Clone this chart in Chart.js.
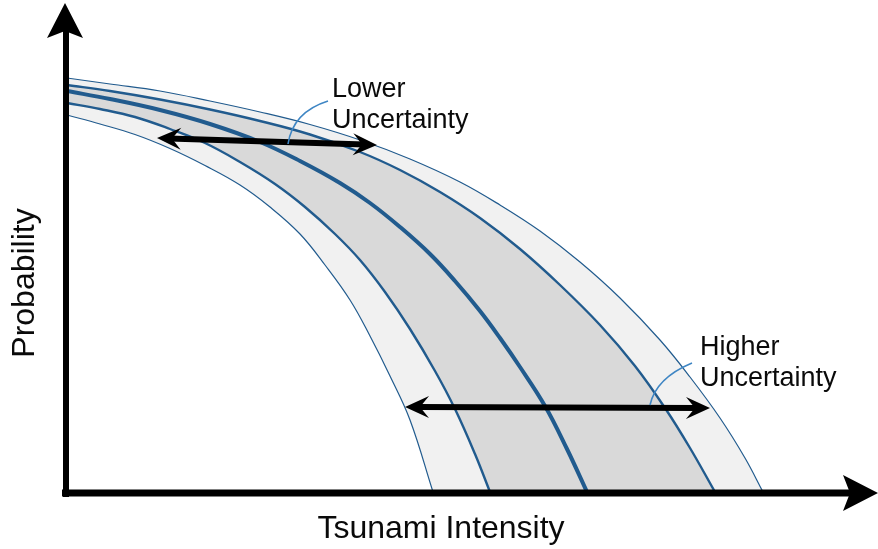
<!DOCTYPE html>
<html>
<head>
<meta charset="utf-8">
<script src="https://cdn.jsdelivr.net/npm/chart.js@4.4.1/dist/chart.umd.min.js"></script>
<style>
  html, body { margin: 0; padding: 0; background: #ffffff; }
  #wrap { width: 878px; height: 549px; position: relative; }
</style>
</head>
<body>
<div id="wrap"><canvas id="chart"></canvas></div>
<script>
// Exceedance curves: x = tsunami intensity, y = probability (relative units)
const outerUpperX = [2, 45, 95, 145, 195, 245, 295, 345, 395, 435, 475, 515, 555, 595, 625, 655, 680, 698];
const outerUpperY = [414, 408, 401, 391, 380, 367.5, 352, 333, 310, 287, 261, 230, 194, 152, 115, 74, 34, 0];

const innerUpperX = [2, 45, 95, 145, 195, 245, 295, 335, 375, 415, 455, 495, 535, 570, 600, 625, 650];
const innerUpperY = [407, 401, 392.5, 382.5, 371, 357.5, 340, 322, 300, 274, 243, 207, 167, 126, 84, 44, 0];

const centralX = [2, 45, 95, 145, 195, 235, 275, 305, 335, 365, 390, 415, 435, 455, 480, 502, 522];
const centralY = [401, 393, 382, 368, 350, 331, 309, 289, 265, 238, 211, 181, 154, 125, 86, 43, 0];

const innerLowerX = [2, 35, 70, 105, 140, 175, 210, 240, 270, 295, 320, 345, 370, 390, 410, 425];
const innerLowerY = [389, 383, 375, 363, 349, 330, 308, 285, 258, 232, 200, 163, 121, 83, 38, 0];

const outerLowerX = [2, 35, 70, 105, 140, 175, 205, 235, 260, 285, 305, 325, 345, 368];
const outerLowerY = [377, 368, 357.5, 343.5, 326.5, 307, 285, 258, 227, 192, 156, 116, 72, 0];

// Spread arrows (start / end in the same units)
const lowerSpread = [[92, 354], [312, 347]];
const higherSpread = [[340, 85], [645, 84]];

// Callout texts and the leader curves that point to the spread arrows
const lowerLabel = ['Lower', 'Uncertainty'];
const higherLabel = ['Higher', 'Uncertainty'];
const lowerLabelAt = [267, 395];
const higherLabelAt = [635, 137];
const lowerLeader = [[223, 348], [228, 380], [263, 391]];
const higherLeader = [[585, 87], [591, 114], [627, 129]];

const axisTitleX = 'Tsunami Intensity';
const axisTitleY = 'Probability';

const toPoints = (xs, ys) => xs.map((x, i) => ({ x: x, y: ys[i] }));

const LINE = '#215b8e';
const LIGHT_BAND = '#f1f1f1';
const DARK_BAND = '#d9d9d9';

function curve(xs, ys, width, fillColor, order) {
  return {
    data: toPoints(xs, ys),
    borderColor: LINE,
    borderWidth: width,
    pointRadius: 0,
    tension: 0.4,
    fill: fillColor ? 'origin' : false,
    backgroundColor: fillColor || 'transparent',
    order: order
  };
}

function arrowHead(ctx, tipX, tipY, dirX, dirY, len, half, notch) {
  const nx = -dirY, ny = dirX;
  ctx.beginPath();
  ctx.moveTo(tipX, tipY);
  ctx.lineTo(tipX - dirX * len + nx * half, tipY - dirY * len + ny * half);
  ctx.lineTo(tipX - dirX * (len - notch), tipY - dirY * (len - notch));
  ctx.lineTo(tipX - dirX * len - nx * half, tipY - dirY * len - ny * half);
  ctx.closePath();
  ctx.fill();
}

const overlay = {
  id: 'overlay',
  afterDraw(chart) {
    const ctx = chart.ctx;
    const xs = chart.scales.x, ys = chart.scales.y;
    const px = v => xs.getPixelForValue(v);
    const py = v => ys.getPixelForValue(v);
    const ox = px(0), oy = py(0);
    ctx.save();

    // axes with arrow heads
    ctx.fillStyle = '#000';
    ctx.strokeStyle = '#000';
    ctx.lineWidth = 6;
    ctx.beginPath();
    ctx.moveTo(ox + 1, oy + 5);
    ctx.lineTo(ox + 1, 30);
    ctx.stroke();
    ctx.lineWidth = 7;
    ctx.beginPath();
    ctx.moveTo(ox - 3, oy + 1);
    ctx.lineTo(chart.width - 28, oy + 1);
    ctx.stroke();
    arrowHead(ctx, ox, 3, 0, -1, 35, 18, 7);
    arrowHead(ctx, chart.width, oy + 1, 1, 0, 35, 18, 7);

    // spread arrows
    [lowerSpread, higherSpread].forEach(seg => {
      const x1 = px(seg[0][0]), y1 = py(seg[0][1]);
      const x2 = px(seg[1][0]), y2 = py(seg[1][1]);
      const d = Math.hypot(x2 - x1, y2 - y1);
      const dx = (x2 - x1) / d, dy = (y2 - y1) / d;
      ctx.lineWidth = 6;
      ctx.beginPath();
      ctx.moveTo(x1 + dx * 12, y1 + dy * 12);
      ctx.lineTo(x2 - dx * 12, y2 - dy * 12);
      ctx.stroke();
      arrowHead(ctx, x2, y2, dx, dy, 24, 11, 9);
      arrowHead(ctx, x1, y1, -dx, -dy, 24, 11, 9);
    });

    // leader curves
    ctx.strokeStyle = '#3f86c4';
    ctx.lineWidth = 1.6;
    [lowerLeader, higherLeader].forEach(l => {
      ctx.beginPath();
      ctx.moveTo(px(l[0][0]), py(l[0][1]));
      ctx.quadraticCurveTo(px(l[1][0]), py(l[1][1]), px(l[2][0]), py(l[2][1]));
      ctx.stroke();
    });

    // callout texts
    ctx.fillStyle = '#0a0a0a';
    ctx.font = '27px "Liberation Sans", Arial, sans-serif';
    ctx.textAlign = 'left';
    ctx.textBaseline = 'alphabetic';
    [[lowerLabel, lowerLabelAt], [higherLabel, higherLabelAt]].forEach(([lines, at]) => {
      lines.forEach((t, i) => ctx.fillText(t, px(at[0]), py(at[1]) + i * 31));
    });

    // axis titles
    ctx.font = '32px "Liberation Sans", Arial, sans-serif';
    ctx.textAlign = 'center';
    ctx.fillText(axisTitleX, 441, 538);
    ctx.save();
    ctx.translate(34, 283);
    ctx.rotate(-Math.PI / 2);
    ctx.fillText(axisTitleY, 0, 0);
    ctx.restore();

    ctx.restore();
  }
};

new Chart(document.getElementById('chart'), {
  type: 'line',
  data: {
    datasets: [
      curve(outerUpperX, outerUpperY, 1.2, LIGHT_BAND, 5),
      curve(innerUpperX, innerUpperY, 2.4, DARK_BAND, 4),
      curve(centralX, centralY, 4, null, 3),
      curve(innerLowerX, innerLowerY, 2.4, LIGHT_BAND, 2),
      curve(outerLowerX, outerLowerY, 1.2, '#ffffff', 1)
    ]
  },
  options: {
    responsive: true,
    maintainAspectRatio: false,
    animation: false,
    layout: { padding: { left: 65, top: 0, right: 0, bottom: 57 } },
    scales: {
      x: { type: 'linear', min: 0, max: 813, display: false },
      y: { type: 'linear', min: 0, max: 492, display: false }
    },
    plugins: { legend: { display: false }, tooltip: { enabled: false } }
  },
  plugins: [overlay]
});
</script>
</body>
</html>
